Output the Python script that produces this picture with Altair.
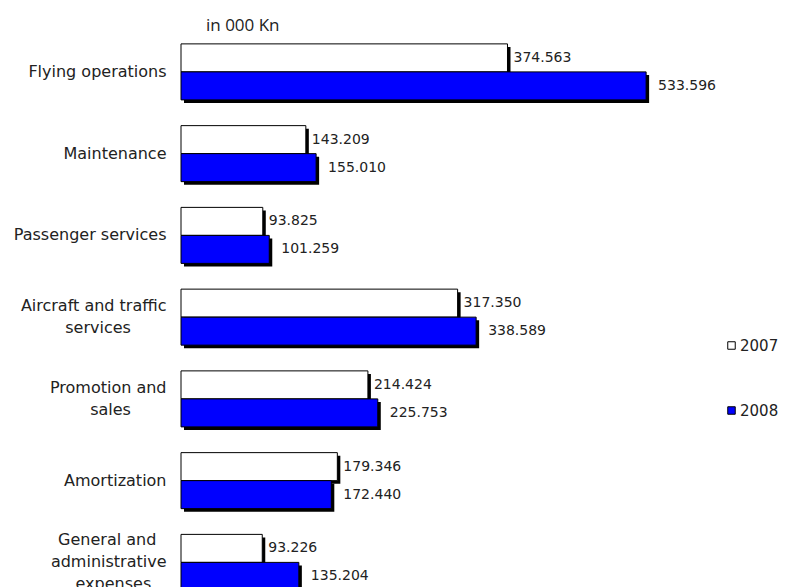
import altair as alt
import pandas as pd

# Operating expenses by category, in thousands of kuna
categories = [
    "Flying operations",
    "Maintenance",
    "Passenger services",
    "Aircraft and traffic\nservices",
    "Promotion and\nsales",
    "Amortization",
    "General and\nadministrative\nexpenses",
]
values_2007 = [374.563, 143.209, 93.825, 317.350, 214.424, 179.346, 93.226]
values_2008 = [533.596, 155.010, 101.259, 338.589, 225.753, 172.440, 135.204]
years = ["2007", "2008"]
year_colors = ["#ffffff", "#0000ff"]

FONT = "DejaVu Sans"
TEXT_COLOR = "#222222"
NARROW = set("iljtfr ")


def rough_width(line):
    """Approximate rendered width of a line, in em."""
    return sum(0.35 if ch in NARROW else 0.62 for ch in line)


def centered_lines(label):
    """Pad shorter lines with no-break spaces so a right-aligned block reads centred.

    A zero-width joiner closes each padded line so the trailing spaces are kept.
    """
    lines = label.split("\n")
    if len(lines) == 1:
        return label
    widest = max(rough_width(line) for line in lines)
    out = []
    for line in lines:
        n = int(round((widest - rough_width(line)) / 2 / 0.318))
        out.append(line + "\u00a0" * n + ("\u200d" if n else ""))
    return "\n".join(out)


display = [centered_lines(c) for c in categories]

rows = []
for cat, v07, v08 in zip(display, values_2007, values_2008):
    rows.append({"category": cat, "year": years[0], "value": v07})
    rows.append({"category": cat, "year": years[1], "value": v08})
df = pd.DataFrame(rows)

LINE_H = 22
n_lines = "length(split(datum.value, '\\n'))"

y_enc = alt.Y(
    "category:N",
    sort=display,
    scale=alt.Scale(range=[0, 572.25], paddingInner=0, paddingOuter=0),
    axis=alt.Axis(
        title=None,
        domain=False,
        ticks=False,
        labelPadding=15,
        labelAlign="right",
        labelBaseline="middle",
        labelFont=FONT,
        labelFontSize=16,
        labelColor=TEXT_COLOR,
        labelLineHeight=LINE_H,
        labelLimit=400,
        labelExpr="split(datum.label, '\\n')",
        # shift multi-line labels up so the block is centred on its band
        labelOffset={
            "condition": [
                {"test": n_lines + " == 3", "value": -LINE_H},
                {"test": n_lines + " == 2", "value": -LINE_H / 2},
            ],
            "value": 0,
        },
    ),
)
x_enc = alt.X("value:Q", scale=alt.Scale(domain=[0, 600], nice=False), axis=None)
color_enc = alt.Color(
    "year:N",
    scale=alt.Scale(domain=years, range=year_colors),
    legend=alt.Legend(
        title=None,
        orient="none",
        legendX=543,
        legendY=307,
        symbolType="square",
        symbolSize=56,
        symbolStrokeColor="black",
        symbolStrokeWidth=1,
        labelFont=FONT,
        labelFontSize=15,
        labelColor=TEXT_COLOR,
        labelOffset=1,
        rowPadding=49,
    ),
)

base = alt.Chart(df).encode(y=y_enc, x=x_enc)
d07 = base.transform_filter(alt.datum.year == years[0])
d08 = base.transform_filter(alt.datum.year == years[1])

shadow07 = d07.mark_bar(size=28, yOffset=-11, xOffset=3, x2Offset=3, color="black")
shadow08 = d08.mark_bar(size=28, yOffset=17, xOffset=3, x2Offset=3, color="black")
bar07 = d07.mark_bar(size=28, yOffset=-14, stroke="black", strokeWidth=1).encode(color=color_enc)
bar08 = d08.mark_bar(size=28, yOffset=14, stroke="black", strokeWidth=1).encode(color=color_enc)

text_style = dict(align="left", baseline="middle", font=FONT, fontSize=14, color=TEXT_COLOR)
label07 = d07.mark_text(dx=6, yOffset=-14, **text_style).encode(
    text=alt.Text("value:Q", format=".3f")
)
label08 = d08.mark_text(dx=12, yOffset=14, **text_style).encode(
    text=alt.Text("value:Q", format=".3f")
)

chart = (
    alt.layer(shadow07, shadow08, bar07, bar08, label07, label08)
    .properties(
        width=523,
        height=556,
        autosize=alt.AutoSizeParams(type="none"),
        padding={"left": 181, "top": 31, "right": 82, "bottom": 0},
        title=alt.TitleParams(
            "in 000 Kn",
            anchor="start",
            frame="group",
            dx=25,
            dy=18,
            font="Open Sans",
            fontSize=17,
            fontWeight="normal",
            color=TEXT_COLOR,
            baseline="alphabetic",
            offset=1,
        ),
        background="white",
    )
    .configure_view(stroke=None)
)

chart.save("out.html", embed_options={"renderer": "svg", "actions": False})
